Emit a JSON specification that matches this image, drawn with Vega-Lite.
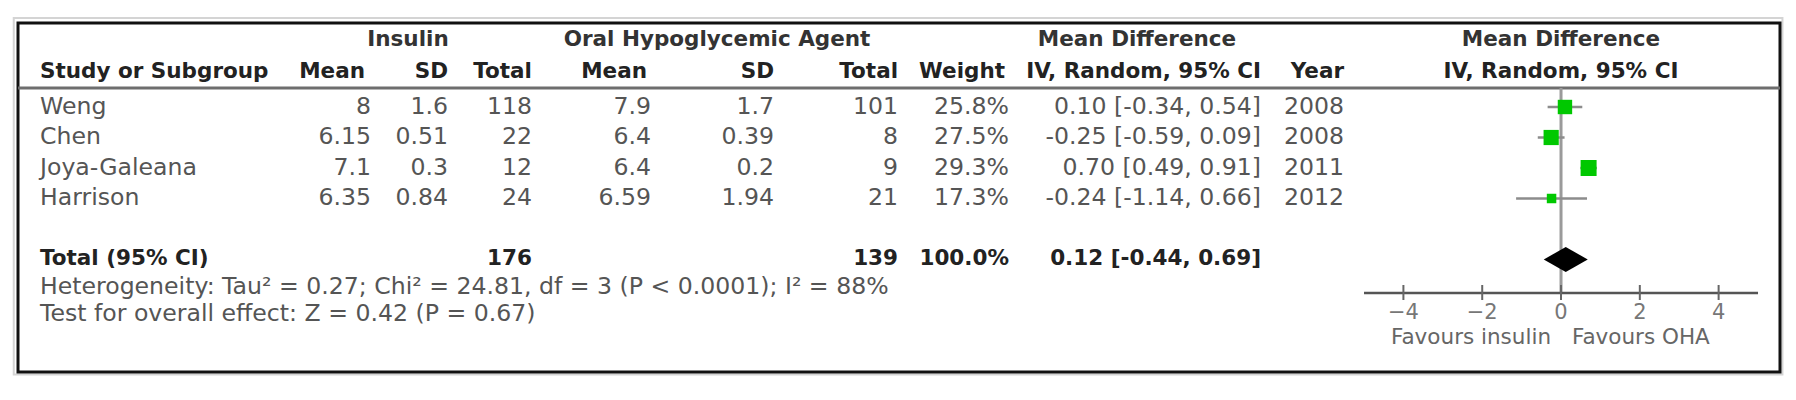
{
  "$schema": "https://vega.github.io/schema/vega-lite/v6.json",
  "width": 1796,
  "height": 400,
  "padding": 0,
  "autosize": {"type": "fit", "contains": "padding"},
  "background": "white",
  "config": {"view": {"stroke": null}, "axis": {"disable": true}},
  "datasets": {
    "studies": [
      {"study": "Weng", "m1": 8, "sd1": 1.6, "n1": 118, "m2": 7.9, "sd2": 1.7, "n2": 101, "weight": 25.8, "md": 0.10, "lo": -0.34, "hi": 0.54, "ci": "0.10 [-0.34, 0.54]", "year": 2008},
      {"study": "Chen", "m1": 6.15, "sd1": 0.51, "n1": 22, "m2": 6.4, "sd2": 0.39, "n2": 8, "weight": 27.5, "md": -0.25, "lo": -0.59, "hi": 0.09, "ci": "-0.25 [-0.59, 0.09]", "year": 2008},
      {"study": "Joya-Galeana", "m1": 7.1, "sd1": 0.3, "n1": 12, "m2": 6.4, "sd2": 0.2, "n2": 9, "weight": 29.3, "md": 0.70, "lo": 0.49, "hi": 0.91, "ci": "0.70 [0.49, 0.91]", "year": 2011},
      {"study": "Harrison", "m1": 6.35, "sd1": 0.84, "n1": 24, "m2": 6.59, "sd2": 1.94, "n2": 21, "weight": 17.3, "md": -0.24, "lo": -1.14, "hi": 0.66, "ci": "-0.24 [-1.14, 0.66]", "year": 2012}
    ],
    "total": [
      {"label": "Total (95% CI)", "n1": 176, "n2": 139, "weight": 100.0, "md": 0.12, "lo": -0.44, "hi": 0.69, "ci": "0.12 [-0.44, 0.69]"}
    ],
    "ticks": [{"t": -4}, {"t": -2}, {"t": 0}, {"t": 2}, {"t": 4}]
  },
  "layer": [
    {
      "data": {"values": [{}]},
      "mark": {"type": "rect", "filled": false, "color": "#d4d4d4", "strokeWidth": 2},
      "encoding": {
        "x": {"datum": -39.27, "type": "quantitative", "scale": {"domain": [-39.619, 5.964], "nice": false, "zero": false}},
        "x2": {"datum": 5.62},
        "y": {"datum": -2.92, "type": "quantitative", "scale": {"domain": [-3.5082, 9.6066], "nice": false, "zero": false, "reverse": true}},
        "y2": {"datum": 8.77}
      }
    },
    {
      "data": {"values": [{}]},
      "mark": {"type": "rect", "filled": false, "color": "#111", "strokeWidth": 3},
      "encoding": {"x": {"datum": -39.162}, "x2": {"datum": 5.558}, "y": {"datum": -2.754}, "y2": {"datum": 8.689}}
    },
    {
      "data": {"values": [{}]},
      "mark": {"type": "rule", "color": "#6e6e6e", "strokeWidth": 3},
      "encoding": {"x": {"datum": -39.162}, "x2": {"datum": 5.558}, "y": {"datum": -0.623}}
    },
    {
      "data": {"values": [{}]},
      "mark": {"type": "rule", "color": "#9a9a9a", "strokeWidth": 3},
      "encoding": {"x": {"datum": 0}, "y": {"datum": -0.623}, "y2": {"datum": 6.098}}
    },
    {
      "data": {"values": [{}]},
      "mark": {"type": "rule", "color": "#555", "strokeWidth": 2.5},
      "encoding": {"x": {"datum": -5}, "x2": {"datum": 5}, "y": {"datum": 6.098}}
    },
    {
      "data": {"name": "ticks"},
      "layer": [
        {
          "mark": {"type": "rule", "color": "#666", "strokeWidth": 2},
          "encoding": {"x": {"field": "t", "type": "quantitative"}, "y": {"datum": 5.836}, "y2": {"datum": 6.328}}
        },
        {
          "mark": {"type": "text", "align": "center", "baseline": "middle", "font": "DejaVu Sans", "fontSize": 21, "color": "#777"},
          "encoding": {"x": {"field": "t", "type": "quantitative"}, "y": {"datum": 6.754}, "text": {"field": "t", "type": "quantitative", "format": "d"}}
        }
      ]
    },
    {
      "data": {"values": [{}]},
      "mark": {"type": "text", "text": "Favours insulin", "align": "right", "baseline": "middle", "font": "DejaVu Sans", "fontSize": 21.5, "color": "#666"},
      "encoding": {"x": {"datum": -0.254}, "y": {"datum": 7.574}}
    },
    {
      "data": {"values": [{}]},
      "mark": {"type": "text", "text": "Favours OHA", "align": "left", "baseline": "middle", "font": "DejaVu Sans", "fontSize": 21.5, "color": "#666"},
      "encoding": {"x": {"datum": 0.279}, "y": {"datum": 7.574}}
    },
    {
      "data": {"values": [{}]},
      "mark": {"type": "text", "text": "Insulin", "align": "center", "baseline": "middle", "font": "DejaVu Sans", "fontWeight": "bold", "fontSize": 21.5, "color": "#333"},
      "encoding": {"x": {"datum": -29.264}, "y": {"datum": -2.197}}
    },
    {
      "data": {"values": [{}]},
      "mark": {"type": "text", "text": "Oral Hypoglycemic Agent", "align": "center", "baseline": "middle", "font": "DejaVu Sans", "fontWeight": "bold", "fontSize": 21.5, "color": "#333"},
      "encoding": {"x": {"datum": -21.421}, "y": {"datum": -2.197}}
    },
    {
      "data": {"values": [{}]},
      "mark": {"type": "text", "text": "Mean Difference", "align": "center", "baseline": "middle", "font": "DejaVu Sans", "fontWeight": "bold", "fontSize": 21.5, "color": "#333"},
      "encoding": {"x": {"datum": -10.761}, "y": {"datum": -2.197}}
    },
    {
      "data": {"values": [{}]},
      "mark": {"type": "text", "text": "Mean Difference", "align": "center", "baseline": "middle", "font": "DejaVu Sans", "fontWeight": "bold", "fontSize": 21.5, "color": "#333"},
      "encoding": {"x": {"datum": 0}, "y": {"datum": -2.197}}
    },
    {
      "data": {"values": [{}]},
      "mark": {"type": "text", "text": "Study or Subgroup", "align": "left", "baseline": "middle", "font": "DejaVu Sans", "fontWeight": "bold", "fontSize": 21.5, "color": "#222"},
      "encoding": {"x": {"datum": -38.604}, "y": {"datum": -1.148}}
    },
    {
      "data": {"values": [{}]},
      "mark": {"type": "text", "text": "Mean", "align": "right", "baseline": "middle", "font": "DejaVu Sans", "fontWeight": "bold", "fontSize": 21.5, "color": "#222"},
      "encoding": {"x": {"datum": -30.355}, "y": {"datum": -1.148}}
    },
    {
      "data": {"values": [{}]},
      "mark": {"type": "text", "text": "SD", "align": "right", "baseline": "middle", "font": "DejaVu Sans", "fontWeight": "bold", "fontSize": 21.5, "color": "#222"},
      "encoding": {"x": {"datum": -28.249}, "y": {"datum": -1.148}}
    },
    {
      "data": {"values": [{}]},
      "mark": {"type": "text", "text": "Total", "align": "right", "baseline": "middle", "font": "DejaVu Sans", "fontWeight": "bold", "fontSize": 21.5, "color": "#222"},
      "encoding": {"x": {"datum": -26.117}, "y": {"datum": -1.148}}
    },
    {
      "data": {"values": [{}]},
      "mark": {"type": "text", "text": "Mean", "align": "right", "baseline": "middle", "font": "DejaVu Sans", "fontWeight": "bold", "fontSize": 21.5, "color": "#222"},
      "encoding": {"x": {"datum": -23.198}, "y": {"datum": -1.148}}
    },
    {
      "data": {"values": [{}]},
      "mark": {"type": "text", "text": "SD", "align": "right", "baseline": "middle", "font": "DejaVu Sans", "fontWeight": "bold", "fontSize": 21.5, "color": "#222"},
      "encoding": {"x": {"datum": -19.975}, "y": {"datum": -1.148}}
    },
    {
      "data": {"values": [{}]},
      "mark": {"type": "text", "text": "Total", "align": "right", "baseline": "middle", "font": "DejaVu Sans", "fontWeight": "bold", "fontSize": 21.5, "color": "#222"},
      "encoding": {"x": {"datum": -16.827}, "y": {"datum": -1.148}}
    },
    {
      "data": {"values": [{}]},
      "mark": {"type": "text", "text": "Weight", "align": "right", "baseline": "middle", "font": "DejaVu Sans", "fontWeight": "bold", "fontSize": 21.5, "color": "#222"},
      "encoding": {"x": {"datum": -14.112}, "y": {"datum": -1.148}}
    },
    {
      "data": {"values": [{}]},
      "mark": {"type": "text", "text": "IV, Random, 95% CI", "align": "right", "baseline": "middle", "font": "DejaVu Sans", "fontWeight": "bold", "fontSize": 21.5, "color": "#222"},
      "encoding": {"x": {"datum": -7.614}, "y": {"datum": -1.148}}
    },
    {
      "data": {"values": [{}]},
      "mark": {"type": "text", "text": "Year", "align": "right", "baseline": "middle", "font": "DejaVu Sans", "fontWeight": "bold", "fontSize": 21.5, "color": "#222"},
      "encoding": {"x": {"datum": -5.508}, "y": {"datum": -1.148}}
    },
    {
      "data": {"values": [{}]},
      "mark": {"type": "text", "text": "IV, Random, 95% CI", "align": "center", "baseline": "middle", "font": "DejaVu Sans", "fontWeight": "bold", "fontSize": 21.5, "color": "#222"},
      "encoding": {"x": {"datum": 0}, "y": {"datum": -1.148}}
    },
    {
      "data": {"name": "studies"},
      "transform": [
        {"window": [{"op": "row_number", "as": "rn"}]},
        {"calculate": "datum.rn - 1", "as": "row"},
        {"calculate": "format(datum.weight, '.1f') + '%'", "as": "wlabel"}
      ],
      "layer": [
        {
          "mark": {"type": "text", "align": "left", "baseline": "middle", "font": "DejaVu Sans", "fontSize": 23.6, "color": "#555"},
          "encoding": {"x": {"datum": -38.604}, "y": {"field": "row", "type": "quantitative"}, "text": {"field": "study", "type": "nominal"}}
        },
        {
          "mark": {"type": "text", "align": "right", "baseline": "middle", "font": "DejaVu Sans", "fontSize": 23.6, "color": "#555"},
          "encoding": {"x": {"datum": -30.203}, "y": {"field": "row", "type": "quantitative"}, "text": {"field": "m1", "type": "nominal"}}
        },
        {
          "mark": {"type": "text", "align": "right", "baseline": "middle", "font": "DejaVu Sans", "fontSize": 23.6, "color": "#555"},
          "encoding": {"x": {"datum": -28.249}, "y": {"field": "row", "type": "quantitative"}, "text": {"field": "sd1", "type": "nominal"}}
        },
        {
          "mark": {"type": "text", "align": "right", "baseline": "middle", "font": "DejaVu Sans", "fontSize": 23.6, "color": "#555"},
          "encoding": {"x": {"datum": -26.117}, "y": {"field": "row", "type": "quantitative"}, "text": {"field": "n1", "type": "nominal"}}
        },
        {
          "mark": {"type": "text", "align": "right", "baseline": "middle", "font": "DejaVu Sans", "fontSize": 23.6, "color": "#555"},
          "encoding": {"x": {"datum": -23.096}, "y": {"field": "row", "type": "quantitative"}, "text": {"field": "m2", "type": "nominal"}}
        },
        {
          "mark": {"type": "text", "align": "right", "baseline": "middle", "font": "DejaVu Sans", "fontSize": 23.6, "color": "#555"},
          "encoding": {"x": {"datum": -19.975}, "y": {"field": "row", "type": "quantitative"}, "text": {"field": "sd2", "type": "nominal"}}
        },
        {
          "mark": {"type": "text", "align": "right", "baseline": "middle", "font": "DejaVu Sans", "fontSize": 23.6, "color": "#555"},
          "encoding": {"x": {"datum": -16.827}, "y": {"field": "row", "type": "quantitative"}, "text": {"field": "n2", "type": "nominal"}}
        },
        {
          "mark": {"type": "text", "align": "right", "baseline": "middle", "font": "DejaVu Sans", "fontSize": 23.6, "color": "#555"},
          "encoding": {"x": {"datum": -14.01}, "y": {"field": "row", "type": "quantitative"}, "text": {"field": "wlabel", "type": "nominal"}}
        },
        {
          "mark": {"type": "text", "align": "right", "baseline": "middle", "font": "DejaVu Sans", "fontSize": 23.6, "color": "#555"},
          "encoding": {"x": {"datum": -7.614}, "y": {"field": "row", "type": "quantitative"}, "text": {"field": "ci", "type": "nominal"}}
        },
        {
          "mark": {"type": "text", "align": "right", "baseline": "middle", "font": "DejaVu Sans", "fontSize": 23.6, "color": "#555"},
          "encoding": {"x": {"datum": -5.508}, "y": {"field": "row", "type": "quantitative"}, "text": {"field": "year", "type": "nominal"}}
        },
        {
          "mark": {"type": "rule", "color": "#8c8c8c", "strokeWidth": 2.5},
          "encoding": {"x": {"field": "lo", "type": "quantitative"}, "x2": {"field": "hi"}, "y": {"field": "row", "type": "quantitative"}}
        },
        {
          "mark": {"type": "point", "shape": "square", "filled": true, "color": "#00c800", "opacity": 1, "strokeWidth": 0},
          "encoding": {
            "x": {"field": "md", "type": "quantitative"},
            "y": {"field": "row", "type": "quantitative"},
            "size": {"field": "weight", "type": "quantitative", "scale": {"domain": [17.3, 29.3], "range": [90, 256]}, "legend": null}
          }
        }
      ]
    },
    {
      "data": {"name": "total"},
      "transform": [{"calculate": "format(datum.weight, '.1f') + '%'", "as": "wlabel"}],
      "layer": [
        {
          "mark": {"type": "text", "align": "left", "baseline": "middle", "font": "DejaVu Sans", "fontWeight": "bold", "fontSize": 21.5, "color": "#222"},
          "encoding": {"x": {"datum": -38.604}, "y": {"datum": 5}, "text": {"field": "label", "type": "nominal"}}
        },
        {
          "mark": {"type": "text", "align": "right", "baseline": "middle", "font": "DejaVu Sans", "fontWeight": "bold", "fontSize": 21.5, "color": "#222"},
          "encoding": {"x": {"datum": -26.117}, "y": {"datum": 5}, "text": {"field": "n1", "type": "nominal"}}
        },
        {
          "mark": {"type": "text", "align": "right", "baseline": "middle", "font": "DejaVu Sans", "fontWeight": "bold", "fontSize": 21.5, "color": "#222"},
          "encoding": {"x": {"datum": -16.827}, "y": {"datum": 5}, "text": {"field": "n2", "type": "nominal"}}
        },
        {
          "mark": {"type": "text", "align": "right", "baseline": "middle", "font": "DejaVu Sans", "fontWeight": "bold", "fontSize": 21.5, "color": "#222"},
          "encoding": {"x": {"datum": -14.01}, "y": {"datum": 5}, "text": {"field": "wlabel", "type": "nominal"}}
        },
        {
          "mark": {"type": "text", "align": "right", "baseline": "middle", "font": "DejaVu Sans", "fontWeight": "bold", "fontSize": 21.5, "color": "#222"},
          "encoding": {"x": {"datum": -7.614}, "y": {"datum": 5}, "text": {"field": "ci", "type": "nominal"}}
        },
        {
          "mark": {"type": "point", "shape": "M-1,0L0,-0.57L1,0L0,0.57Z", "filled": true, "color": "#000", "opacity": 1, "size": 1936, "strokeWidth": 0},
          "encoding": {"x": {"field": "md", "type": "quantitative"}, "y": {"datum": 5}}
        }
      ]
    },
    {
      "data": {"values": [{}]},
      "mark": {"type": "text", "text": "Heterogeneity: Tau² = 0.27; Chi² = 24.81, df = 3 (P < 0.0001); I² = 88%", "align": "left", "baseline": "middle", "font": "DejaVu Sans", "fontSize": 23.6, "color": "#555"},
      "encoding": {"x": {"datum": -38.604}, "y": {"datum": 5.918}}
    },
    {
      "data": {"values": [{}]},
      "mark": {"type": "text", "text": "Test for overall effect: Z = 0.42 (P = 0.67)", "align": "left", "baseline": "middle", "font": "DejaVu Sans", "fontSize": 23.6, "color": "#555"},
      "encoding": {"x": {"datum": -38.604}, "y": {"datum": 6.787}}
    }
  ]
}
